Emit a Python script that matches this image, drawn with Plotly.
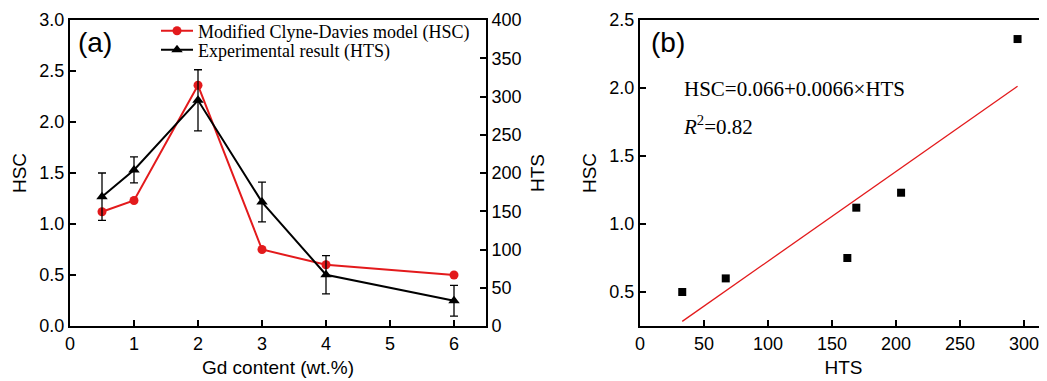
import plotly.graph_objects as go

# ---- data ----
gd_content = [0.5, 1, 2, 3, 4, 6]
hsc_model = [1.12, 1.23, 2.36, 0.75, 0.60, 0.50]
hts_exp = [169, 204, 295, 162, 67, 33]
hts_err = [31, 17, 40, 26, 25, 20]

fit_intercept = 0.066
fit_slope = 0.0066

# page has an 8px body margin; work in page pixels and convert
OFF = 8
W, H = 1047 - OFF, 381 - OFF
def px(x):
    return (x - OFF) / W
def py(y):
    return 1 - (y - OFF) / H

serif = "Liberation Serif, Times New Roman, serif"
sans = "Liberation Sans, Arial, sans-serif"
RED = "#e31a1c"

fig = go.Figure()

fig.add_trace(go.Scatter(
    x=gd_content, y=hsc_model, mode="lines+markers",
    name="Modified Clyne-Davies model (HSC)", legend="legend",
    line=dict(color=RED, width=2),
    marker=dict(symbol="circle", size=9, color=RED),
    xaxis="x", yaxis="y",
))
fig.add_trace(go.Scatter(
    x=gd_content, y=hts_exp, mode="lines+markers",
    name="Experimental result (HTS)", legend="legend2",
    line=dict(color="black", width=2),
    marker=dict(symbol="triangle-up", size=10, color="black"),
    error_y=dict(type="data", array=hts_err, visible=True, color="black", thickness=1.3, width=4),
    xaxis="x", yaxis="y2",
))

# panel (b)
fit_x = [min(hts_exp), max(hts_exp)]
fit_y = [fit_intercept + fit_slope * v for v in fit_x]
fig.add_trace(go.Scatter(
    x=hts_exp, y=hsc_model, mode="markers", showlegend=False,
    marker=dict(symbol="square", size=8, color="black"),
    xaxis="x2", yaxis="y3",
))
fig.add_trace(go.Scatter(
    x=fit_x, y=fit_y, mode="lines", showlegend=False,
    line=dict(color=RED, width=1.3),
    xaxis="x2", yaxis="y3",
))

top, bottom = 20, 326
ydom = [py(bottom), py(top)]

tickfont = dict(family=sans, size=18, color="black")
titlefont = dict(family=sans, size=19, color="black")
axis_common = dict(
    showgrid=False, zeroline=False, showline=True, linecolor="black", linewidth=2,
    ticks="inside", ticklen=6, tickwidth=1.5, tickcolor="black",
    tickfont=tickfont, automargin=False,
)
legend_common = dict(
    xanchor="left", yanchor="middle", bgcolor="rgba(0,0,0,0)",
    font=dict(family=serif, size=18, color="black"), itemwidth=32,
)

fig.update_layout(
    width=W, height=H,
    margin=dict(l=0, r=0, t=0, b=0),
    paper_bgcolor="white", plot_bgcolor="white",
    showlegend=True,
    legend=dict(**legend_common, x=px(156), y=py(31)),
    legend2=dict(**legend_common, x=px(156), y=py(50)),
    xaxis=dict(
        **axis_common, domain=[px(70), px(486)], range=[0, 6.5],
        tickvals=[0, 1, 2, 3, 4, 5, 6], mirror=True, anchor="y",
        title=dict(text="Gd content (wt.%)", font=titlefont, standoff=8),
    ),
    yaxis=dict(
        **axis_common, domain=ydom, range=[0, 3.0], dtick=0.5, tickformat=".1f", anchor="x",
        title=dict(text="HSC", font=titlefont, standoff=8),
    ),
    yaxis2=dict(
        **axis_common, domain=ydom, range=[0, 400], dtick=50, overlaying="y", side="right", anchor="x",
        title=dict(text="HTS", font=titlefont, standoff=10),
    ),
    xaxis2=dict(
        **axis_common, domain=[px(640), 1.0], range=[0, 318],
        tickvals=[0, 50, 100, 150, 200, 250, 300], mirror=True, anchor="y3",
        title=dict(text="HTS", font=titlefont, standoff=8),
    ),
    yaxis3=dict(
        **axis_common, domain=ydom, range=[0.25, 2.5], tickvals=[0.5, 1.0, 1.5, 2.0, 2.5],
        tickformat=".1f", anchor="x2",
        title=dict(text="HSC", font=titlefont, standoff=8),
    ),
    annotations=[
        dict(text="(a)", x=px(76), y=py(43), xref="paper", yref="paper", xanchor="left", yanchor="middle",
             showarrow=False, font=dict(family=sans, size=28, color="black")),
        dict(text="(b)", x=px(649), y=py(43), xref="paper", yref="paper", xanchor="left", yanchor="middle",
             showarrow=False, font=dict(family=sans, size=28, color="black")),
        dict(text="HSC=0.066+0.0066×HTS", x=px(682), y=py(89), xref="paper", yref="paper",
             xanchor="left", yanchor="middle", showarrow=False,
             font=dict(family=serif, size=21, color="black")),
        dict(text="<i>R</i><sup>2</sup>=0.82", x=px(681), y=py(125), xref="paper", yref="paper",
             xanchor="left", yanchor="middle", showarrow=False,
             font=dict(family=serif, size=21, color="black")),
    ],
)

fig.write_html("out.html")
